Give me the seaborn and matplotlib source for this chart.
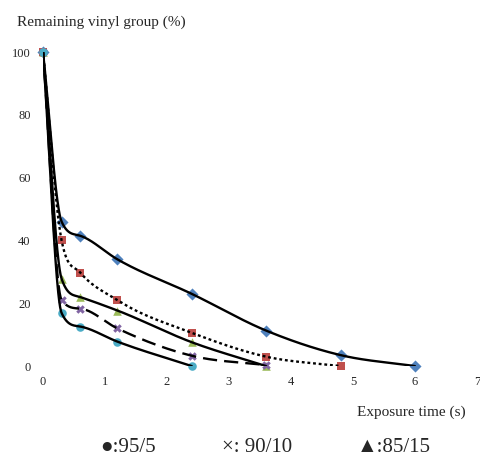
import numpy as np
import pandas as pd
import matplotlib
matplotlib.use("Agg")
import matplotlib.pyplot as plt
import seaborn as sns

# ---- data ----
time_a = [0, 0.3, 0.6, 1.2, 2.4, 3.6, 4.8, 6.0]
vinyl_a = [100, 46, 41.5, 34, 23, 11.3, 3.5, 0]        # blue diamonds
time_b = [0, 0.3, 0.6, 1.2, 2.4, 3.6, 4.8]
vinyl_b = [100, 40, 29.8, 21, 10.6, 3, 0]              # red squares
time_c = [0, 0.3, 0.6, 1.2, 2.4, 3.6]
vinyl_c = [100, 27.8, 22, 17.7, 7.6, 0]                # green triangles
time_d = [0, 0.3, 0.6, 1.2, 2.4, 3.6]
vinyl_d = [100, 21, 18.3, 12, 3.3, 0.3]                # purple crosses
time_e = [0, 0.3, 0.6, 1.2, 2.4]
vinyl_e = [100, 16.9, 12.6, 7.8, 0]                    # cyan circles

x_ticks = [0, 1, 2, 3, 4, 5, 6, 7]
y_ticks = [0, 20, 40, 60, 80, 100]
legend_labels = ["\u25CF:95/5", "\u00D7: 90/10", "\u25B2:85/15"]

series = [
    (time_a, vinyl_a, "#4F81BD", "D", "-"),
    (time_b, vinyl_b, "#C0504D", "s", (0, (1.2, 1.2))),
    (time_c, vinyl_c, "#9BBB59", "^", "-"),
    (time_d, vinyl_d, "#8064A2", "X", (0, (6, 3))),
    (time_e, vinyl_e, "#4BACC6", "o", "-"),
]


def smooth(xs, ys, n=40):
    """Monotone cubic Hermite curve (Fritsch-Carlson limiter) through the points, for drawing."""
    x = np.asarray(xs, float)
    y = np.asarray(ys, float)
    h = np.diff(x)
    d = np.diff(y) / h
    m = np.zeros_like(y)
    m[0] = d[0]
    m[-1] = d[-1]
    for i in range(1, len(y) - 1):
        if d[i - 1] * d[i] <= 0:
            m[i] = 0
        else:
            m[i] = (d[i - 1] * h[i] + d[i] * h[i - 1]) / (h[i] + h[i - 1])
    for i in range(len(d)):
        if d[i] == 0:
            m[i] = m[i + 1] = 0
            continue
        a = m[i] / d[i]
        b = m[i + 1] / d[i]
        s = a * a + b * b
        if s > 9:
            tau = 3 / np.sqrt(s)
            m[i] = tau * a * d[i]
            m[i + 1] = tau * b * d[i]
    ox, oy = [x[0]], [y[0]]
    for i in range(len(x) - 1):
        t = np.linspace(0, 1, n)[1:]
        h00 = 2 * t ** 3 - 3 * t ** 2 + 1
        h10 = t ** 3 - 2 * t ** 2 + t
        h01 = -2 * t ** 3 + 3 * t ** 2
        h11 = t ** 3 - t ** 2
        ox.extend(x[i] + t * h[i])
        oy.extend(h00 * y[i] + h10 * h[i] * m[i] + h01 * y[i + 1] + h11 * h[i] * m[i + 1])
    return np.array(ox), np.array(oy)


sns.set_style("white")
plt.rcParams["font.family"] = ["Liberation Serif", "DejaVu Serif"]

fig = plt.figure(figsize=(4.8, 4.73), dpi=100)
ax = fig.add_axes([0.0896, 0.226, 0.904, 0.664])

for xs, ys, color, marker, ls in series:
    df = pd.DataFrame({"t": xs, "v": ys})
    sns.scatterplot(data=df, x="t", y="v", ax=ax, color=color, marker=marker,
                    s=38, linewidth=0, edgecolor=color,
                    zorder=2, clip_on=False)
for xs, ys, color, marker, ls in series:
    sx, sy = smooth(xs, ys)
    sdf = pd.DataFrame({"t": sx, "v": sy})
    sns.lineplot(data=sdf, x="t", y="v", ax=ax, color="black", linewidth=1.7,
                 linestyle=ls, sort=False, estimator=None, zorder=3)

ax.set_xlim(0, 7)
ax.set_ylim(0, 100)
ax.set_xticks(x_ticks)
ax.set_yticks(y_ticks)
ax.set_xticklabels([str(v) for v in x_ticks], fontsize=9)
ax.set_yticklabels([str(v) for v in y_ticks], fontsize=9)
ax.tick_params(axis="both", length=3, width=0.8, color="#AAAAAA", pad=6)
ax.tick_params(axis="x", length=0, pad=7)
for sp in ax.spines.values():
    sp.set_visible(False)
ax.set_xlabel("")
ax.set_ylabel("")

fig.text(0.035, 0.953, "Remaining vinyl group (%)", fontsize=11, va="center", ha="left")
fig.text(0.97, 0.129, "Exposure time (s)", fontsize=11, va="center", ha="right")

xpos = [0.208, 0.462, 0.743]
for xp, lab in zip(xpos, legend_labels):
    fig.text(xp, 0.053, lab, fontsize=15, va="center", ha="left",
             family=["Liberation Serif", "DejaVu Sans"])

fig.savefig("out.png", dpi=100)
